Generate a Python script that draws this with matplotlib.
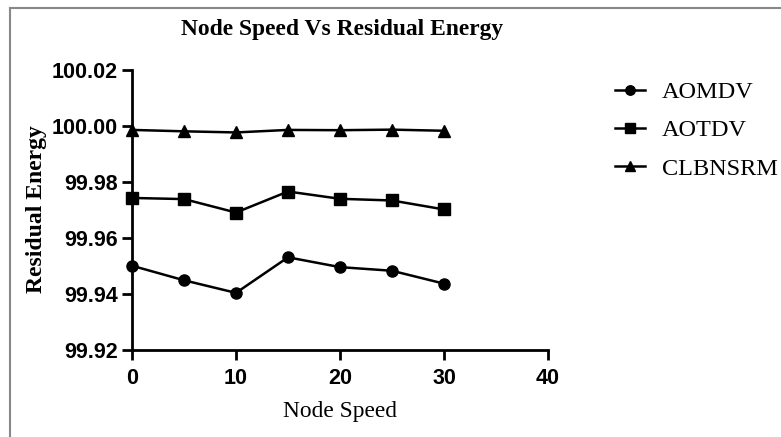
import matplotlib
matplotlib.use("Agg")
import matplotlib.pyplot as plt
from matplotlib.lines import Line2D

# node speed values and residual energy per protocol
speed = [0, 5, 10, 15, 20, 25, 30]
aomdv = [99.9501, 99.9449, 99.9404, 99.9531, 99.9496, 99.9483, 99.9437]
aotdv = [99.9743, 99.9739, 99.9691, 99.9766, 99.9740, 99.9734, 99.9702]
clbnsrm = [99.9986, 99.9981, 99.9977, 99.9986, 99.9985, 99.9987, 99.9983]
xticks = [0, 10, 20, 30, 40]
yticks = [99.92, 99.94, 99.96, 99.98, 100.00, 100.02]

serif = "Liberation Serif"
sans = "Liberation Sans"

fig = plt.figure(figsize=(7.81, 4.37), dpi=100)
ax = fig.add_axes([132 / 781, 1 - 350 / 437, 416 / 781, 280 / 437])

style = dict(color="black", lw=1.8, clip_on=False)
ax.plot(speed, aomdv, marker="o", ms=8, label="AOMDV", **style)
ax.plot(speed, aotdv, marker="s", ms=8, label="AOTDV", **style)
ax.plot(speed, clbnsrm, marker="^", ms=8, label="CLBNSRM", **style)

ax.set_xlim(0, 40)
ax.set_ylim(99.92, 100.02)
ax.set_xticks(xticks)
ax.set_yticks(yticks)
ax.set_yticklabels(["{:.2f}".format(v) for v in yticks])
for s in ("top", "right"):
    ax.spines[s].set_visible(False)
for s in ("left", "bottom"):
    ax.spines[s].set_linewidth(2)
ax.tick_params(width=2, length=7, direction="out")
ax.tick_params(axis="y", pad=3)
ax.tick_params(axis="x", pad=6)
for lbl in ax.get_xticklabels() + ax.get_yticklabels():
    lbl.set_fontfamily(sans)
    lbl.set_fontweight("bold")
    lbl.set_fontsize(15.5)

ax.set_xlabel("Node Speed", fontfamily=serif, fontsize=16.8)
ax.xaxis.set_label_coords(340 / 781, 1 - 412 / 437, transform=fig.transFigure)
ax.xaxis.label.set_va("center")
ax.set_ylabel("Residual Energy", fontfamily=serif, fontweight="bold", fontsize=17)
ax.yaxis.set_label_coords(37 / 781, 1 - 209 / 437, transform=fig.transFigure)
ax.yaxis.label.set_va("center")
fig.text(342 / 781, 1 - 29 / 437, "Node Speed Vs Residual Energy", fontfamily=serif,
         fontweight="bold", fontsize=16.9, ha="center", va="center")

leg = ax.legend(loc="upper left", bbox_to_anchor=(615 / 781, 1 - 81 / 437),
                bbox_transform=fig.transFigure, frameon=False, borderpad=0,
                borderaxespad=0, prop={"family": serif, "size": 17.5},
                handlelength=1.23, labelspacing=0.67, handletextpad=0.7,
                markerscale=0.85)

# thin grey frame on the top and left edges
fig.add_artist(Line2D([10 / 781, 1], [1 - 8 / 437, 1 - 8 / 437], color="#888888", lw=1.5))
fig.add_artist(Line2D([10 / 781, 10 / 781], [0, 1 - 8 / 437], color="#888888", lw=1.5))

fig.savefig("out.png", dpi=100)
